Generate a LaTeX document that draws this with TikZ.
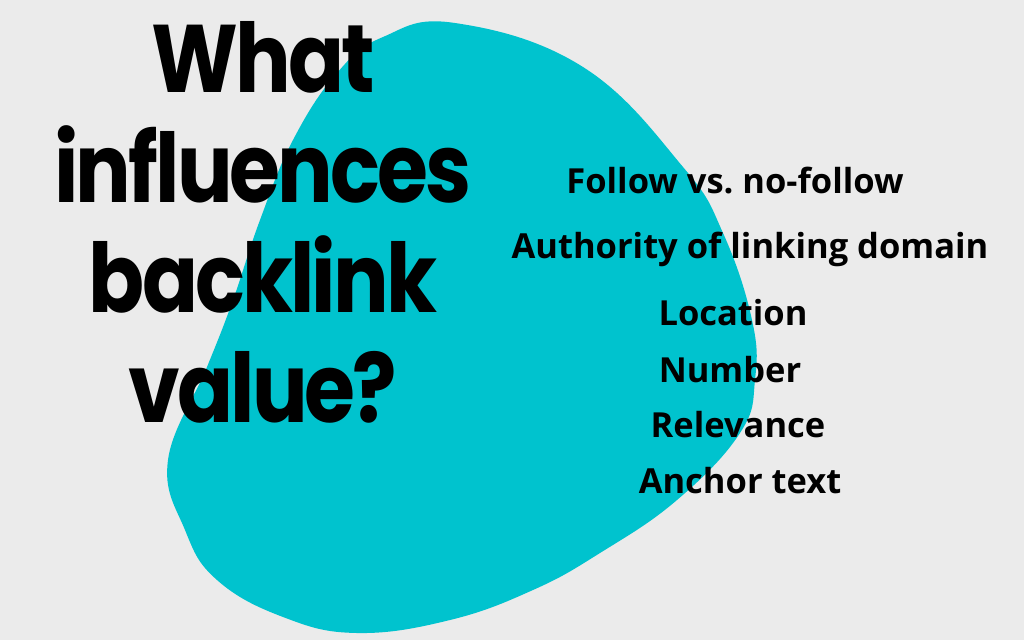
\documentclass[tikz,border=0pt]{standalone}
\usepackage{fontspec}
\usepackage{tikz}
\newfontfamily\titlefont{Poppins}[FakeStretch=0.86, LetterSpace=-3]
\newfontfamily\listfont{Open Sans}
\definecolor{pagegrey}{HTML}{EBEBEB}
\definecolor{blobteal}{HTML}{00C3CE}
\tikzset{
    headword/.style={anchor=base, inner sep=0pt, font=\titlefont\bfseries\fontsize{96}{110}\selectfont},
    factor/.style={anchor=base, inner sep=0pt, font=\listfont\bfseries\fontsize{34.5}{40}\selectfont}
}

\begin{document}
\frenchspacing
\begin{tikzpicture}[x=1pt,y=-1pt]
                \fill[pagegrey] (0,0) rectangle (1024,640);
                \useasboundingbox (0,0) rectangle (1024,640);
                % the blob
                \fill[blobteal] plot[smooth cycle, tension=0.7] coordinates {
                    (455,23) (583,67) (683,167) (723,233) (752,320) (755,380)
                    (740,433) (677,500) (600,553) (533,590) (450,620) (357,633)
                    (283,617) (217,580) (185,530) (168,460) (207,367) (233,300)
                    (260,220) (293,140) (337,73) (383,37)};
                % title
                \foreach \word/\y [count=\i] in {What/92, influences/202, backlink/312, value?/422}
                    \node[headword] (title\i) at (263,\y) {\word};
                % factors
                \node[factor] (follow)    at (735,193) {Follow vs.\ no-follow};
                \node[factor] (authority) at (750,258) {Authority of linking domain};
                \node[factor] (location)  at (733,325) {Location};
                \node[factor] (number)    at (730,382) {Number};
                \node[factor] (relevance) at (738,437) {Relevance};
                \node[factor] (anchor)    at (740,493) {Anchor text};
\end{tikzpicture}
\end{document}
